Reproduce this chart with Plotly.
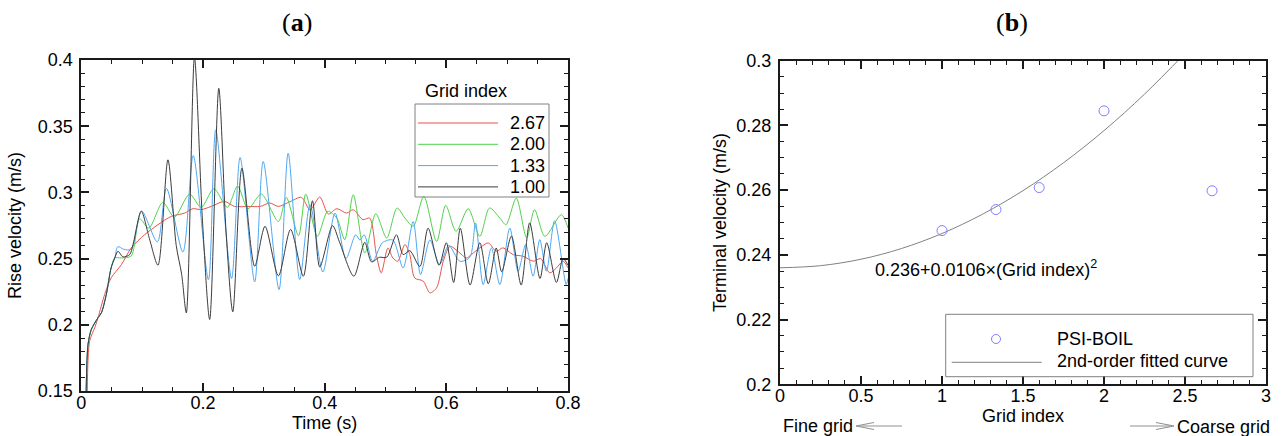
import plotly.graph_objects as go

W, H = 1283, 436

# ---------------- data: panel (a) rise velocity vs time ----------------
t_100 = [0.008, 0.011, 0.0165, 0.0274, 0.033, 0.0411, 0.049, 0.055, 0.0603, 0.0685, 0.0795, 0.085,
         0.0986, 0.112, 0.126, 0.1424, 0.156, 0.165, 0.1726, 0.186, 0.199, 0.211, 0.226, 0.238, 0.249,
         0.264, 0.285, 0.302, 0.324, 0.344, 0.365, 0.380, 0.392, 0.413, 0.424, 0.448, 0.466, 0.477,
         0.490, 0.502, 0.518, 0.529, 0.540, 0.5565, 0.570, 0.588, 0.600, 0.612, 0.623, 0.639, 0.655,
         0.669, 0.682, 0.691, 0.707, 0.723, 0.737, 0.754, 0.765, 0.781, 0.792, 0.800]
v_100 = [0.15, 0.185, 0.1965, 0.2053, 0.209, 0.2229, 0.243, 0.2505, 0.2555, 0.2513, 0.253, 0.2606,
         0.2857, 0.265, 0.245, 0.3246, 0.26, 0.238, 0.209, 0.402, 0.28, 0.204, 0.3786, 0.27, 0.2098,
         0.3183, 0.2442, 0.2744, 0.237, 0.272, 0.2367, 0.2937, 0.2437, 0.2749, 0.263, 0.2367, 0.2623,
         0.2475, 0.251, 0.251, 0.268, 0.253, 0.256, 0.244, 0.273, 0.245, 0.262, 0.232, 0.273, 0.230,
         0.262, 0.231, 0.258, 0.240, 0.267, 0.230, 0.277, 0.235, 0.262, 0.232, 0.250, 0.245]

t_133 = [0.008, 0.011, 0.0165, 0.0274, 0.033, 0.0411, 0.049, 0.055, 0.060, 0.070, 0.082, 0.099,
         0.125, 0.140, 0.167, 0.184, 0.209, 0.221, 0.247, 0.261, 0.285, 0.299, 0.325, 0.340, 0.359,
         0.376, 0.397, 0.417, 0.435, 0.451, 0.458, 0.465, 0.479, 0.495, 0.512, 0.529, 0.5455, 0.5576,
         0.573, 0.589, 0.604, 0.622, 0.6386, 0.648, 0.6605, 0.674, 0.688, 0.7043, 0.718, 0.7305,
         0.7426, 0.7536, 0.7645, 0.778, 0.797, 0.800]
v_133 = [0.15, 0.185, 0.1965, 0.2053, 0.209, 0.2229, 0.243, 0.2505, 0.259, 0.257, 0.257, 0.286,
         0.2626, 0.303, 0.255, 0.3279, 0.234, 0.3472, 0.2349, 0.3264, 0.2324, 0.3234, 0.2266, 0.3296,
         0.2342, 0.2907, 0.2399, 0.2844, 0.25, 0.268, 0.264, 0.268, 0.248, 0.262, 0.264, 0.243, 0.278,
         0.238, 0.264, 0.2455, 0.260, 0.248, 0.251, 0.2769, 0.2304, 0.258, 0.2304, 0.2731, 0.2405,
         0.2606, 0.2367, 0.2643, 0.2405, 0.2786, 0.2304, 0.235]

t_200 = [0.008, 0.011, 0.0165, 0.0274, 0.033, 0.0411, 0.049, 0.055, 0.066, 0.082, 0.096, 0.111,
         0.134, 0.153, 0.178, 0.197, 0.218, 0.240, 0.257, 0.274, 0.296, 0.324, 0.337, 0.357, 0.369,
         0.388, 0.405, 0.420, 0.433, 0.447, 0.466, 0.484, 0.502, 0.519, 0.532, 0.5455, 0.563, 0.584,
         0.599, 0.616, 0.636, 0.655, 0.671, 0.688, 0.698, 0.715, 0.732, 0.745, 0.762, 0.789, 0.800]
v_200 = [0.15, 0.185, 0.1965, 0.2053, 0.209, 0.2229, 0.243, 0.2505, 0.2505, 0.252, 0.280, 0.273,
         0.2925, 0.2814, 0.2987, 0.2887, 0.3028, 0.2887, 0.3048, 0.2877, 0.2987, 0.278, 0.2962,
         0.2673, 0.2987, 0.2668, 0.2857, 0.2806, 0.2643, 0.2982, 0.2543, 0.2839, 0.2656, 0.2882,
         0.2806, 0.2744, 0.297, 0.263, 0.2902, 0.2706, 0.2877, 0.2668, 0.2882, 0.2806, 0.2756,
         0.2957, 0.2656, 0.2869, 0.2668, 0.2832, 0.2731]

t_267 = [0.0098, 0.0137, 0.022, 0.0274, 0.0384, 0.049, 0.066, 0.082, 0.104, 0.126, 0.148, 0.170,
         0.1835, 0.197, 0.2136, 0.2355, 0.2519, 0.274, 0.294, 0.310, 0.3237, 0.343, 0.362, 0.376,
         0.392, 0.406, 0.420, 0.436, 0.447, 0.463, 0.474, 0.485, 0.493, 0.504, 0.512, 0.520, 0.532,
         0.540, 0.548, 0.562, 0.573, 0.584, 0.595, 0.606, 0.619, 0.633, 0.641, 0.655, 0.669, 0.682,
         0.693, 0.710, 0.726, 0.743, 0.755, 0.770, 0.781, 0.792, 0.800]
v_267 = [0.15, 0.1877, 0.1977, 0.2053, 0.2229, 0.2354, 0.2455, 0.258, 0.268, 0.2756, 0.2819, 0.2844,
         0.2877, 0.287, 0.2894, 0.2932, 0.2894, 0.2894, 0.2894, 0.292, 0.2894, 0.293, 0.2962, 0.2869,
         0.2965, 0.2837, 0.2877, 0.2844, 0.2869, 0.2794, 0.2806, 0.253, 0.2392, 0.258, 0.2505, 0.248,
         0.2606, 0.253, 0.2354, 0.233, 0.2241, 0.2279, 0.248, 0.2593, 0.2555, 0.2505, 0.253, 0.2581,
         0.2618, 0.2555, 0.2581, 0.253, 0.2518, 0.248, 0.250, 0.2392, 0.243, 0.248, 0.243]

series_names = ["2.67", "2.00", "1.33", "1.00"]
series_colors = ["#e8524c", "#4fd24a", "#4ea7f2", "#3c3c3c"]

# ---------------- data: panel (b) terminal velocity vs grid index ----------------
grid_index = [1.0, 1.333, 1.6, 2.0, 2.667]
terminal_v = [0.2475, 0.2540, 0.2608, 0.2845, 0.2598]
fit_x = [0.0, 0.25, 0.5, 0.75, 1.0, 1.25, 1.5, 1.75, 2.0, 2.25, 2.5]
fit_v = [0.2360, 0.23666, 0.23865, 0.24196, 0.2466, 0.25256, 0.25985, 0.26846, 0.2784, 0.28966, 0.30225]

# ---------------- helpers for layout positions ----------------
def px(x):
    return x / W

def py(y):
    return 1 - y / H

FONT = "Liberation Sans, Arial, sans-serif"
FS = 18
AX = "#1a1a1a"

fig = go.Figure()

series_t = [t_267, t_200, t_133, t_100]
series_v = [v_267, v_200, v_133, v_100]
for name, col, tt, vv in zip(series_names, series_colors, series_t, series_v):
    fig.add_trace(go.Scatter(x=tt, y=vv, mode="lines", name=name,
                             line=dict(color=col, width=1, shape="spline", smoothing=0.8),
                             xaxis="x", yaxis="y", showlegend=False))

fig.add_trace(go.Scatter(x=fit_x, y=fit_v, mode="lines", name="2nd-order fitted curve",
                         line=dict(color="#808080", width=1, shape="spline"),
                         xaxis="x2", yaxis="y2", showlegend=False))
fig.add_trace(go.Scatter(x=grid_index, y=terminal_v, mode="markers", name="PSI-BOIL",
                         marker=dict(symbol="circle-open", size=10, color="#7f7fff",
                                     line=dict(width=1, color="#7f7fff")),
                         xaxis="x2", yaxis="y2", showlegend=False))

def axis(dom, rng, dtick, minor_dtick, anchor, title, standoff, label_standoff):
    return dict(domain=dom, range=rng, dtick=dtick, tick0=rng[0], anchor=anchor,
                showline=True, linewidth=2, linecolor=AX, mirror="ticks",
                ticks="inside", ticklen=8, tickwidth=2, tickcolor=AX,
                ticklabelstandoff=label_standoff, automargin=False,
                showgrid=False, zeroline=False,
                tickfont=dict(family=FONT, size=FS, color="black"),
                minor=dict(ticks="inside", ticklen=4, tickwidth=1, tickcolor=AX,
                           dtick=minor_dtick, tick0=rng[0], showgrid=False),
                title=dict(text=title, font=dict(family=FONT, size=FS, color="black"),
                           standoff=standoff))

ax_dom_a = [px(81.3), px(568)]
ay_dom_a = [py(391), py(60)]
ax_dom_b = [px(780), px(1266)]
ay_dom_b = [py(384.3), py(60.7)]

fig.update_layout(
    width=W, height=H, autosize=False,
    margin=dict(l=0, r=0, t=0, b=0, pad=0, autoexpand=False),
    paper_bgcolor="white", plot_bgcolor="white",
    xaxis=axis(ax_dom_a, [0, 0.8], 0.2, 0.05, "y", "Time (s)", 2, -6),
    yaxis=axis(ay_dom_a, [0.15, 0.4], 0.05, 0.01, "x", "Rise velocity (m/s)", 11, 3),
    xaxis2=axis(ax_dom_b, [0, 3], 0.5, 0.1, "y2", "Grid index", 1, -6),
    yaxis2=axis(ay_dom_b, [0.2, 0.3], 0.02, 0.005, "x2", "Terminal velocity (m/s)", 5, 3),
)

shapes = []
annotations = []

def txt(x, y, s, size=FS, xanchor="center", family=FONT):
    annotations.append(dict(x=px(x), y=py(y), xref="paper", yref="paper", text=s,
                            showarrow=False, xanchor=xanchor, yanchor="middle",
                            font=dict(family=family, size=size, color="black")))

def seg(x0, y0, x1, y1, color, width=1):
    shapes.append(dict(type="line", xref="paper", yref="paper",
                       x0=px(x0), y0=py(y0), x1=px(x1), y1=py(y1),
                       line=dict(color=color, width=width)))

# panel titles
txt(297, 22, "(<b>a</b>)", size=26, family="Liberation Serif, serif")
txt(1012, 22, "(<b>b</b>)", size=26, family="Liberation Serif, serif")

# legend of panel (a)
txt(466, 91, "Grid index")
shapes.append(dict(type="rect", xref="paper", yref="paper", x0=px(415), x1=px(549),
                   y0=py(197), y1=py(104), line=dict(color="#808080", width=1)))
for i, (name, col) in enumerate(zip(series_names, series_colors)):
    yy = 123 + i * 21.3
    seg(418, yy, 498, yy, col, 1)
    txt(547, yy, name, xanchor="right")

# legend of panel (b)
shapes.append(dict(type="rect", xref="paper", yref="paper", x0=px(945.7), x1=px(1253),
                   y0=py(376.7), y1=py(314.3), line=dict(color="#808080", width=1)))
shapes.append(dict(type="circle", xref="paper", yref="paper", x0=px(991.5), x1=px(1000.5),
                   y0=py(343.5), y1=py(334.5), line=dict(color="#7f7fff", width=1)))
txt(1055, 338.5, "PSI-BOIL", size=FS, xanchor="left")
seg(951.7, 362.3, 1041.7, 362.3, "#808080", 1)
txt(1055, 361, "2nd-order fitted curve", size=FS, xanchor="left")

# fit equation
txt(873, 268, "0.236+0.0106×(Grid index)<sup>2</sup>", xanchor="left")

# fine / coarse grid arrows
txt(781, 426, "Fine grid", xanchor="left")
txt(1175, 427, "Coarse grid", xanchor="left")
AR = "#909090"
seg(860, 426, 902, 426, AR)
seg(856, 426, 874, 422.5, AR)
seg(856, 426, 874, 429.5, AR)
seg(1130, 426, 1170, 426, AR)
seg(1174, 426, 1156, 422.5, AR)
seg(1174, 426, 1156, 429.5, AR)

fig.update_layout(shapes=shapes, annotations=annotations)

fig.write_html("out.html", config={"displayModeBar": False},
               post_script="document.body.style.margin='0';")
